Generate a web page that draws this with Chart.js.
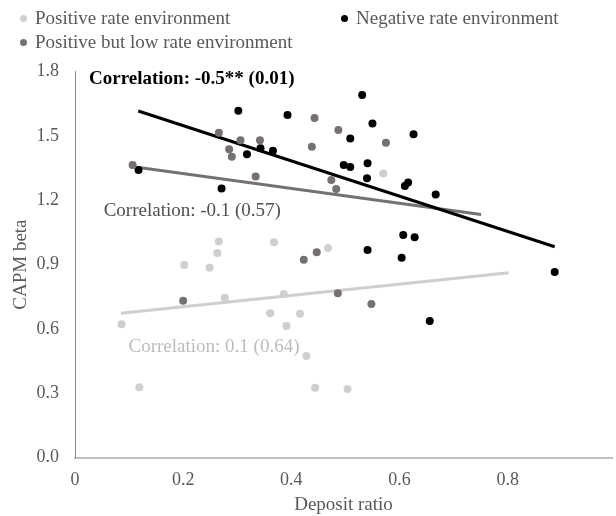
<!DOCTYPE html>
<html>
<head>
<meta charset="utf-8">
<title>CAPM beta vs deposit ratio</title>
<script src="https://cdn.jsdelivr.net/npm/chart.js@4.4.1/dist/chart.umd.min.js"></script>
<style>
    body { margin: 0; background: #fff; }
    #wrap { position: relative; width: 616px; height: 516px; }
    #legend { position: absolute; left: 0; top: 0; font-family: "Liberation Serif", serif; font-size: 19px; color: #595959; }
    .item { position: absolute; height: 24px; display: flex; align-items: center; line-height: 24px; white-space: nowrap; }
    .dot { width: 7px; height: 7px; border-radius: 50%; margin-right: 8px; }
</style>
</head>
<body>
<div id="wrap">
    <canvas id="grafico" width="616" height="516"></canvas>
    <div id="legend"></div>
</div>
<script>
// Dados (Deposit ratio x CAPM beta)
const nomesSeries = ['Positive rate environment', 'Negative rate environment', 'Positive but low rate environment'];

const positivoX = [0.266, 0.368, 0.263, 0.202, 0.249, 0.468, 0.277, 0.386, 0.361, 0.416, 0.391, 0.086, 0.428, 0.119, 0.444, 0.504, 0.570];
const positivoY = [1.008, 1.004, 0.954, 0.898, 0.885, 0.977, 0.746, 0.763, 0.673, 0.671, 0.614, 0.622, 0.474, 0.328, 0.326, 0.320, 1.325];

const negativoX = [0.302, 0.393, 0.318, 0.343, 0.366, 0.1175, 0.271, 0.531, 0.550, 0.509, 0.626, 0.497, 0.509, 0.541, 0.540, 0.610, 0.616, 0.667, 0.607, 0.628, 0.541, 0.604, 0.887, 0.656];
const negativoY = [1.617, 1.597, 1.414, 1.442, 1.431, 1.341, 1.255, 1.690, 1.558, 1.488, 1.508, 1.364, 1.355, 1.372, 1.302, 1.266, 1.283, 1.227, 1.038, 1.027, 0.968, 0.932, 0.865, 0.637];

const baixoX = [0.443, 0.487, 0.266, 0.306, 0.342, 0.285, 0.290, 0.438, 0.334, 0.1065, 0.474, 0.483, 0.575, 0.423, 0.447, 0.200, 0.486, 0.548];
const baixoY = [1.583, 1.527, 1.514, 1.480, 1.480, 1.438, 1.403, 1.449, 1.311, 1.364, 1.294, 1.252, 1.468, 0.923, 0.957, 0.732, 0.766, 0.716];

// Linhas de tendência (início e fim)
const tendPositivoX = [0.085, 0.802];
const tendPositivoY = [0.673, 0.862];
const tendNegativoX = [0.117, 0.887];
const tendNegativoY = [1.616, 0.983];
const tendBaixoX = [0.108, 0.751];
const tendBaixoY = [1.356, 1.134];

const correlacoes = ['Correlation: 0.1 (0.64)', 'Correlation: -0.5** (0.01)', 'Correlation: -0.1 (0.57)'];

const xTicks = [0, 0.2, 0.4, 0.6, 0.8];
const xTickLabels = ['0', '0.2', '0.4', '0.6', '0.8'];
const yTicks = [0, 0.3, 0.6, 0.9, 1.2, 1.5, 1.8];
const yTickLabels = ['0.0', '0.3', '0.6', '0.9', '1.2', '1.5', '1.8'];

const cores = ['#d0cece', '#000000', '#767171'];
const fonte = '"Liberation Serif", serif';

function pontos(xs, ys) {
    return xs.map((x, i) => ({ x, y: ys[i] }));
}

// Legenda em duas colunas, como no original
function montarLegenda() {
    const caixa = document.getElementById('legend');
    const lugares = [[20, 6], [341, 6], [20, 30]];
    nomesSeries.forEach((nome, i) => {
        const item = document.createElement('div');
        item.className = 'item';
        item.style.left = lugares[i][0] + 'px';
        item.style.top = lugares[i][1] + 'px';
        item.innerHTML = `<span class="dot" style="background:${cores[i]}"></span><span>${nome}</span>`;
        caixa.appendChild(item);
    });
}

// Rótulos de correlação ancorados nas coordenadas dos dados
const rotulosCorrelacao = {
    id: 'rotulosCorrelacao',
    afterDatasetsDraw(chart) {
        const { ctx, scales: { x, y } } = chart;
        const ancoras = [
            { x: 0.099, y: 0.517, cor: '#bcbcbc', peso: 'normal' },
            { x: 0.026, y: 1.763, cor: '#000000', peso: 'bold' },
            { x: 0.053, y: 1.151, cor: '#505050', peso: 'normal' }
        ];
        ctx.save();
        ctx.textAlign = 'left';
        ctx.textBaseline = 'middle';
        ancoras.forEach((a, i) => {
            ctx.font = `${a.peso} 19px ${fonte}`;
            ctx.fillStyle = a.cor;
            ctx.fillText(correlacoes[i], x.getPixelForValue(a.x), y.getPixelForValue(a.y));
        });
        ctx.restore();
    }
};

function serieDispersao(i, xs, ys, ordem) {
    return {
        label: nomesSeries[i],
        data: pontos(xs, ys),
        backgroundColor: cores[i],
        borderWidth: 0,
        pointRadius: 4,
        showLine: false,
        order: ordem
    };
}

function serieTendencia(i, xs, ys, ordem) {
    return {
        label: 'trend ' + i,
        data: pontos(xs, ys),
        type: 'line',
        borderColor: cores[i],
        borderWidth: 3,
        pointRadius: 0,
        fill: false,
        tension: 0,
        order: ordem
    };
}

document.addEventListener('DOMContentLoaded', () => {
    montarLegenda();
    const ctx = document.getElementById('grafico').getContext('2d');
    new Chart(ctx, {
        type: 'scatter',
        data: {
            datasets: [
                serieDispersao(0, positivoX, positivoY, 3),
                serieDispersao(1, negativoX, negativoY, 2),
                serieDispersao(2, baixoX, baixoY, 1),
                serieTendencia(0, tendPositivoX, tendPositivoY, 6),
                serieTendencia(1, tendNegativoX, tendNegativoY, 4),
                serieTendencia(2, tendBaixoX, tendBaixoY, 5)
            ]
        },
        options: {
            responsive: false,
            devicePixelRatio: 1,
            animation: false,
            events: [],
            layout: { padding: { top: 71.5, left: 0, right: 0, bottom: 0 } },
            plugins: { legend: { display: false }, tooltip: { enabled: false } },
            scales: {
                x: {
                    type: 'linear',
                    min: 0,
                    max: 0.993,
                    afterBuildTicks: s => { s.ticks = xTicks.map(v => ({ value: v })); },
                    afterFit: s => { s.height = 58.3; },
                    grid: { display: false, drawTicks: false },
                    border: { display: true, color: '#bfbfbf', width: 2 },
                    ticks: {
                        autoSkip: false,
                        maxRotation: 0,
                        padding: 12,
                        color: '#595959',
                        font: { family: fonte, size: 18 },
                        callback: (v, i) => xTickLabels[i]
                    },
                    title: {
                        display: true,
                        text: 'Deposit ratio',
                        color: '#595959',
                        font: { family: fonte, size: 19 },
                        padding: { top: 0, bottom: 0 }
                    }
                },
                y: {
                    type: 'linear',
                    min: 0,
                    max: 1.8,
                    afterBuildTicks: s => { s.ticks = yTicks.map(v => ({ value: v })); },
                    afterFit: s => { s.width = 75; },
                    grid: { display: false, drawTicks: false },
                    border: { display: true, color: '#8c8c8c', width: 1 },
                    ticks: {
                        padding: 16,
                        color: '#595959',
                        font: { family: fonte, size: 18 },
                        callback: (v, i) => yTickLabels[i]
                    },
                    title: {
                        display: true,
                        text: 'CAPM beta',
                        color: '#595959',
                        font: { family: fonte, size: 19 },
                        padding: { top: 10, bottom: 0 }
                    }
                }
            }
        },
        plugins: [rotulosCorrelacao]
    });
});
</script>
</body>
</html>
